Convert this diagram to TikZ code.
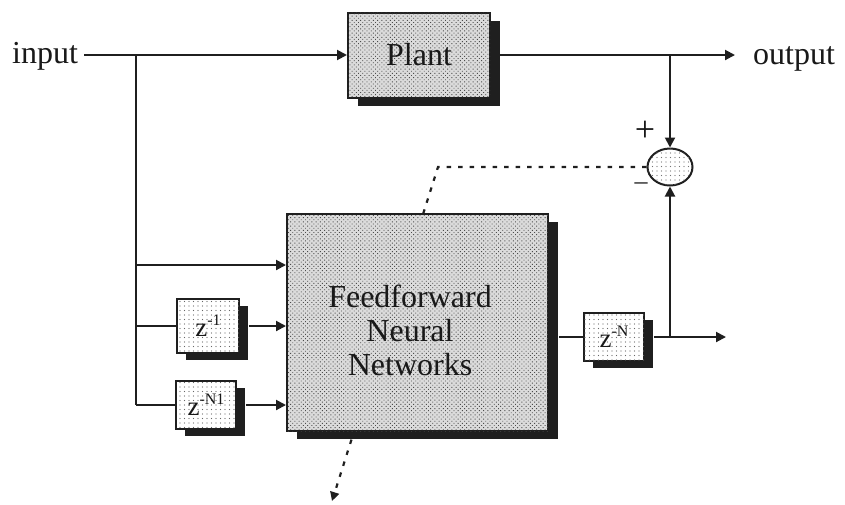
\documentclass[tikz,border=0pt]{standalone}
\usepackage{fontspec}
\setmainfont{Liberation Serif}
\usetikzlibrary{arrows.meta,shadows,patterns.meta,shapes.geometric}

\begin{document}
\begin{tikzpicture}[x=1pt,y=-1pt,
  wire/.style={line width=2pt,draw=black!88},
  arr/.style={wire,-{Triangle[length=10pt,width=10pt]}},
  cue/.style={line width=2.2pt,draw=black!88,dash pattern=on 4.5pt off 7pt,
    -{Triangle[length=9pt,width=9pt]}},
  darkbox/.style={rectangle,draw=black!88,line width=2pt,inner sep=0pt,
    fill=black!14,
    postaction={pattern={Dots[distance=3pt,radius=0.65pt,angle=45]},pattern color=black!70},
    drop shadow={shadow xshift=10pt,shadow yshift=-8pt,fill=black!88,opacity=1}},
  lightbox/.style={rectangle,draw=black!88,line width=1.8pt,inner sep=0pt,
    fill=white,
    postaction={pattern={Dots[distance=4.5pt,radius=0.55pt]},pattern color=black!60},
    drop shadow={shadow xshift=9pt,shadow yshift=-7pt,fill=black!88,opacity=1}},
  sumnode/.style={ellipse,draw=black!88,line width=2pt,inner sep=0pt,
    fill=white,
    postaction={pattern={Dots[distance=4.5pt,radius=0.55pt]},pattern color=black!55}},
  bigtext/.style={font=\fontsize{32}{34}\selectfont,text=black!90},
  ztext/.style={font=\fontsize{27}{27}\selectfont,text=black!90}
]
\useasboundingbox (0,0) rectangle (845,504);

% plant and the outer signal path
\node[darkbox,minimum width=142pt,minimum height=85pt,bigtext] (plant) at (419,55) {Plant};
\node[bigtext,anchor=base west,inner sep=0pt] (inp) at (12,63) {input};
\node[bigtext,anchor=base west,inner sep=0pt] (out) at (753,64) {output};
\coordinate (ytip) at (735,55);
\coordinate (br) at (136,55);

\draw[arr] ([xshift=6pt]inp.east |- plant.west) -- (plant.west);
\draw[arr] (plant.east) -- (ytip);

% summing junction
\node[sumnode,minimum width=45pt,minimum height=37pt] (sum) at (670,167) {};
\node[font=\fontsize{36}{36}\selectfont,text=black!90] (plus) at (645,131) {+};
\node[font=\fontsize{26}{26}\selectfont,text=black!90] (minus) at (641,186) {–};
\draw[arr] (sum |- plant.east) -- (sum.north);

% error signal routed across the network block
\coordinate (bend) at (438,167);
\coordinate (wtip) at (332,501);
\draw[cue] (sum.west) -- (bend) -- (wtip);

% neural network block
\node[darkbox,minimum width=261pt,minimum height=217pt] (nn) at (417.5,322.5) {};
\node[bigtext,align=center] (nnlabel) at (410,330) {Feedforward\\Neural\\Networks};

% tapped delay line
\node[lightbox,minimum width=62pt,minimum height=54pt,ztext] (zone) at (208,326)
  {z\raisebox{11pt}{\fontsize{16}{16}\selectfont -1}\hspace{8pt}};
\node[lightbox,minimum width=60pt,minimum height=48pt,ztext] (znone) at (206,405)
  {z\raisebox{11pt}{\fontsize{16}{16}\selectfont -N1}\hspace{2pt}};
\node[lightbox,minimum width=60pt,minimum height=48pt,ztext] (zn) at (614,337)
  {z\raisebox{11pt}{\fontsize{16}{16}\selectfont -N}\hspace{4pt}};

\coordinate (in0) at (136,265);
\draw[wire] (br) -- (br |- znone.west);
\draw[arr] (in0) -- (in0 -| nn.west);
\draw[wire] (br |- zone.west) -- (zone.west);
\draw[arr] ([xshift=9pt]zone.east) -- (zone.east -| nn.west);
\draw[wire] (br |- znone.west) -- (znone.west);
\draw[arr] ([xshift=9pt]znone.east) -- (znone.east -| nn.west);

% network output, delay and feedback into the junction
\coordinate (yout) at (726,337);
\draw[wire] ([xshift=10pt]nn.east |- zn.west) -- (zn.west);
\draw[arr] ([xshift=9pt]zn.east) -- (yout);
\draw[arr] (sum |- zn.east) -- (sum.south);
\end{tikzpicture}
\end{document}
